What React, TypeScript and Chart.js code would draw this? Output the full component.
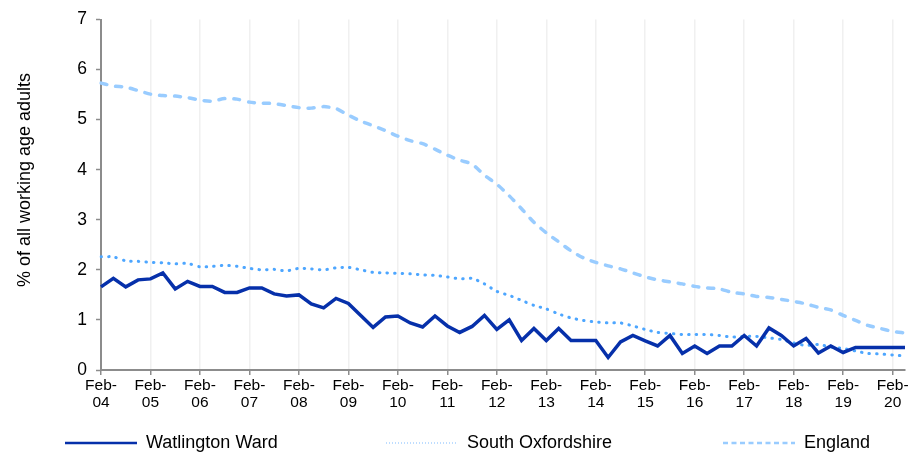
import React, { useEffect, useRef } from "react";
import { Chart, registerables } from "chart.js";

Chart.register(...registerables);

const quarters = [
  "Feb-04", "May-04", "Aug-04", "Nov-04",
  "Feb-05", "May-05", "Aug-05", "Nov-05",
  "Feb-06", "May-06", "Aug-06", "Nov-06",
  "Feb-07", "May-07", "Aug-07", "Nov-07",
  "Feb-08", "May-08", "Aug-08", "Nov-08",
  "Feb-09", "May-09", "Aug-09", "Nov-09",
  "Feb-10", "May-10", "Aug-10", "Nov-10",
  "Feb-11", "May-11", "Aug-11", "Nov-11",
  "Feb-12", "May-12", "Aug-12", "Nov-12",
  "Feb-13", "May-13", "Aug-13", "Nov-13",
  "Feb-14", "May-14", "Aug-14", "Nov-14",
  "Feb-15", "May-15", "Aug-15", "Nov-15",
  "Feb-16", "May-16", "Aug-16", "Nov-16",
  "Feb-17", "May-17", "Aug-17", "Nov-17",
  "Feb-18", "May-18", "Aug-18", "Nov-18",
  "Feb-19", "May-19", "Aug-19", "Nov-19",
  "Feb-20", "May-20",
];

const watlington = [
  1.66, 1.83, 1.66, 1.80, 1.82, 1.94, 1.62, 1.77,
  1.67, 1.67, 1.55, 1.55, 1.64, 1.64, 1.52, 1.48,
  1.50, 1.32, 1.24, 1.43, 1.33, 1.09, 0.85, 1.06,
  1.08, 0.94, 0.86, 1.08, 0.88, 0.75, 0.87, 1.09,
  0.81, 1.00, 0.59, 0.83, 0.59, 0.83, 0.59, 0.59,
  0.59, 0.25, 0.56, 0.69, 0.58, 0.48, 0.69, 0.33,
  0.48, 0.33, 0.48, 0.48, 0.69, 0.48, 0.84, 0.69,
  0.48, 0.63, 0.34, 0.48, 0.35, 0.45, 0.45, 0.45,
  0.45, 0.45,
];

const southOxfordshire = [
  2.26, 2.26, 2.18, 2.17, 2.15, 2.14, 2.12, 2.13,
  2.06, 2.07, 2.09, 2.07, 2.03, 2.00, 2.01, 1.98,
  2.03, 2.02, 2.00, 2.04, 2.05, 2.00, 1.95, 1.94,
  1.93, 1.92, 1.90, 1.89, 1.86, 1.82, 1.83, 1.72,
  1.57, 1.49, 1.39, 1.29, 1.22, 1.12, 1.04, 0.99,
  0.96, 0.94, 0.94, 0.88, 0.81, 0.75, 0.73, 0.71,
  0.71, 0.71, 0.69, 0.66, 0.67, 0.67, 0.64, 0.61,
  0.54, 0.49, 0.51, 0.46, 0.43, 0.38, 0.33, 0.32,
  0.30, 0.28,
];

const england = [
  5.73, 5.67, 5.65, 5.58, 5.51, 5.48, 5.47, 5.44,
  5.39, 5.37, 5.42, 5.41, 5.35, 5.33, 5.32, 5.28,
  5.24, 5.23, 5.26, 5.22, 5.09, 4.97, 4.88, 4.78,
  4.67, 4.58, 4.52, 4.41, 4.29, 4.19, 4.11, 3.89,
  3.71, 3.48, 3.22, 2.95, 2.74, 2.56, 2.38, 2.24,
  2.15, 2.08, 2.02, 1.94, 1.86, 1.80, 1.76, 1.72,
  1.67, 1.64, 1.62, 1.55, 1.52, 1.47, 1.45, 1.41,
  1.37, 1.32, 1.25, 1.20, 1.09, 0.99, 0.89, 0.83,
  0.77, 0.74,
];

const seriesNames = ["Watlington Ward", "South Oxfordshire", "England"];
const yTitle = "% of all working age adults";

const FONT = "'Liberation Sans', Arial, sans-serif";

const legendLayout = [
  { x: 65, color: "#0630aa", width: 2.5, dash: [] as number[], cap: "butt" },
  { x: 386, color: "#a9d2ff", width: 1.5, dash: [1, 2], cap: "butt" },
  { x: 723, color: "#99ccff", width: 2.5, dash: [5, 3.5], cap: "butt" },
];

const customPlugin = {
  id: "customDecor",
  afterDraw(chart: any) {
    const ctx = chart.ctx as CanvasRenderingContext2D;
    ctx.save();
    ctx.translate(25, 180);
    ctx.rotate(-Math.PI / 2);
    ctx.font = `18px ${FONT}`;
    ctx.fillStyle = "#000";
    ctx.textAlign = "center";
    ctx.textBaseline = "middle";
    ctx.fillText(yTitle, 0, 0);
    ctx.restore();

    const y = 443;
    chart.data.datasets.forEach((ds: any, i: number) => {
      const l = legendLayout[i];
      ctx.save();
      ctx.strokeStyle = l.color;
      ctx.lineWidth = l.width;
      ctx.setLineDash(l.dash);
      ctx.lineCap = l.cap as CanvasLineCap;
      ctx.beginPath();
      ctx.moveTo(l.x, y);
      ctx.lineTo(l.x + 72, y);
      ctx.stroke();
      ctx.setLineDash([]);
      ctx.font = `18px ${FONT}`;
      ctx.fillStyle = "#000";
      ctx.textAlign = "left";
      ctx.textBaseline = "middle";
      ctx.fillText(ds.label, l.x + 81, y);
      ctx.restore();
    });
  },
};

export default function App() {
  const canvasRef = useRef<HTMLCanvasElement | null>(null);

  useEffect(() => {
    if (!canvasRef.current) return;
    const chart = new Chart(canvasRef.current, {
      type: "line",
      data: {
        labels: quarters,
        datasets: [
          {
            label: seriesNames[0],
            data: watlington,
            borderColor: "#0630aa",
            borderWidth: 3.5,
            pointRadius: 0,
            tension: 0,
            borderJoinStyle: "miter",
            order: 0,
          },
          {
            label: seriesNames[1],
            data: southOxfordshire,
            borderColor: "#4da6ff",
            borderWidth: 3,
            borderDash: [0.5, 7.1],
            borderCapStyle: "round",
            pointRadius: 0,
            tension: 0.25,
            order: 1,
          },
          {
            label: seriesNames[2],
            data: england,
            borderColor: "#99ccff",
            borderWidth: 3.5,
            borderDash: [6, 9],
            borderCapStyle: "round",
            pointRadius: 0,
            tension: 0.25,
            order: 2,
          },
        ],
      },
      options: {
        responsive: false,
        animation: false,
        layout: { padding: { top: 16, right: 1, bottom: 0, left: 0 } },
        plugins: {
          legend: { display: false },
          tooltip: { enabled: false },
        },
        scales: {
          x: {
            type: "category",
            offset: false,
            afterFit: (scale: any) => {
              scale.height = 87;
            },
            border: { display: true, color: "#8c8c8c", width: 2 },
            grid: {
              display: true,
              drawOnChartArea: true,
              drawTicks: true,
              tickLength: 5,
              lineWidth: 1.5,
              tickWidth: 1.5,
              color: (c: any) =>
                c.index % 4 === 0 && c.index > 0 ? "#f0f0f0" : "rgba(0,0,0,0)",
              tickColor: (c: any) =>
                c.index % 4 === 0 ? "#8c8c8c" : "rgba(0,0,0,0)",
            },
            ticks: {
              autoSkip: false,
              maxRotation: 0,
              minRotation: 0,
              padding: 3,
              color: "#000",
              font: { family: FONT, size: 15.5, lineHeight: 1.05 },
              callback: (_v: any, index: number) =>
                index % 4 === 0
                  ? [quarters[index].slice(0, 4), quarters[index].slice(4)]
                  : "",
            },
          },
          y: {
            min: 0,
            max: 7,
            afterFit: (scale: any) => {
              scale.width = 101;
            },
            border: { display: true, color: "#8c8c8c", width: 2 },
            grid: {
              display: true,
              drawOnChartArea: false,
              drawTicks: true,
              tickLength: 5,
              tickColor: "#8c8c8c",
              tickWidth: 1.5,
            },
            ticks: {
              stepSize: 1,
              padding: 9,
              color: "#000",
              font: { family: FONT, size: 17.5 },
            },
          },
        },
      },
      plugins: [customPlugin],
    });
    return () => chart.destroy();
  }, []);

  return (
    <div style={{ position: "absolute", left: 0, top: 0, width: 908, height: 457, background: "#fff" }}>
      <canvas ref={canvasRef} width={908} height={457} />
    </div>
  );
}
